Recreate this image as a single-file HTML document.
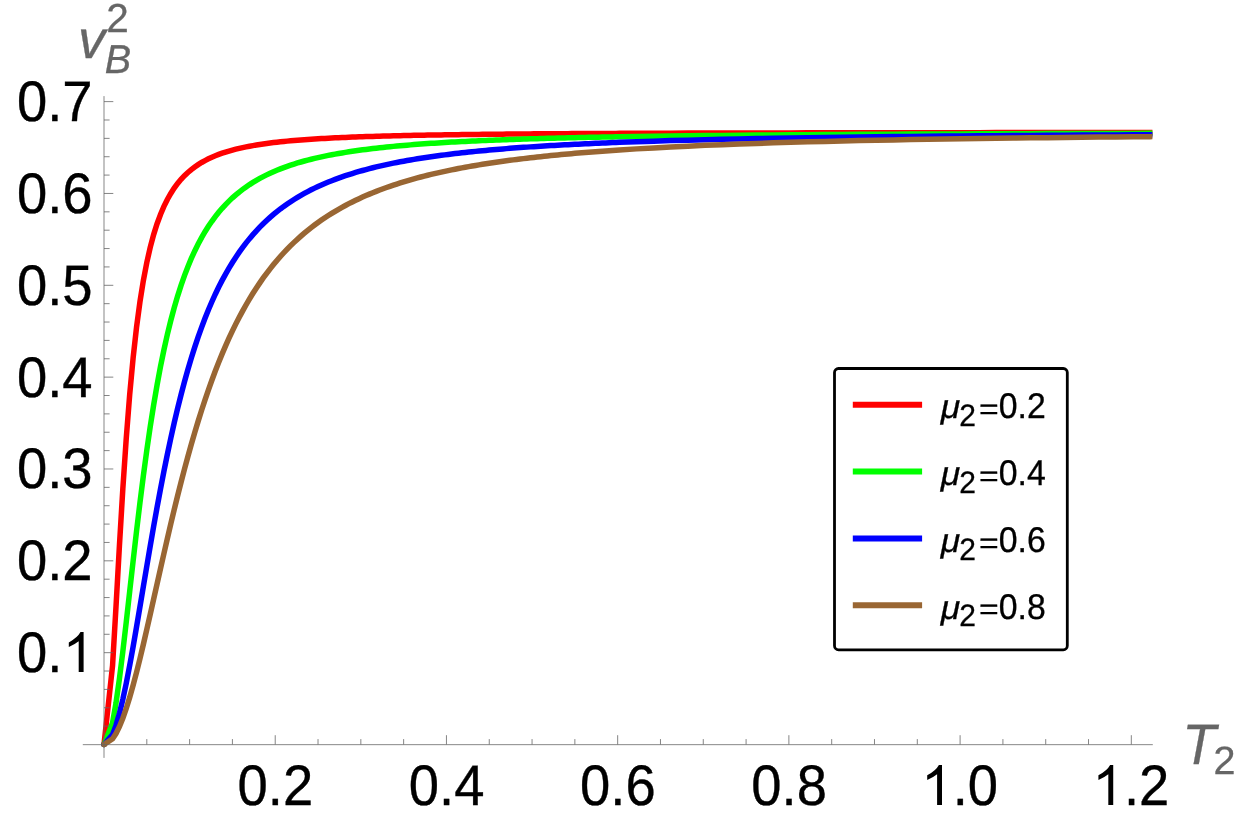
<!DOCTYPE html>
<html><head><meta charset="utf-8"><title>plot</title>
<style>
html,body{margin:0;padding:0;background:#fff;}
body{width:1241px;height:835px;overflow:hidden;}
svg{display:block;will-change:transform;}
text{font-family:"Liberation Sans",sans-serif;text-rendering:geometricPrecision;}
</style></head><body>
<svg width="1241" height="835" viewBox="0 0 1241 835">
<rect width="1241" height="835" fill="#fff"/>

<g fill="none" stroke-width="5.5" stroke-linejoin="miter" stroke-linecap="butt">
<path d="M104.00 744.50 L112.56 665.55 L115.99 606.80 L119.41 546.02 L122.83 488.92 L126.26 438.25 L129.68 394.74 L133.11 358.05 L136.53 327.36 L139.96 301.77 L143.38 280.39 L146.81 262.47 L150.23 247.39 L153.65 234.62 L157.08 223.74 L160.50 214.43 L163.93 206.41 L167.35 199.46 L170.78 193.42 L174.20 188.13 L177.62 183.47 L181.05 179.36 L184.47 175.71 L187.90 172.47 L191.32 169.56 L194.75 166.95 L198.17 164.61 L201.60 162.48 L205.02 160.56 L208.44 158.81 L211.87 157.22 L215.29 155.76 L218.72 154.43 L222.14 153.21 L225.57 152.08 L228.99 151.04 L232.42 150.08 L235.84 149.19 L239.26 148.36 L242.69 147.60 L246.11 146.88 L249.54 146.22 L252.96 145.60 L256.39 145.01 L259.81 144.47 L263.23 143.96 L266.66 143.48 L270.08 143.03 L273.51 142.60 L276.93 142.20 L280.36 141.83 L283.78 141.47 L287.21 141.13 L290.63 140.81 L294.05 140.51 L297.48 140.22 L300.90 139.95 L304.33 139.69 L307.75 139.45 L311.18 139.21 L314.60 138.99 L318.03 138.78 L321.45 138.58 L324.87 138.38 L328.30 138.20 L331.72 138.02 L335.15 137.85 L338.57 137.69 L342.00 137.54 L345.42 137.39 L348.84 137.25 L352.27 137.11 L355.69 136.98 L359.12 136.86 L362.54 136.73 L365.97 136.62 L369.39 136.51 L372.82 136.40 L376.24 136.30 L379.66 136.20 L383.09 136.10 L386.51 136.01 L389.94 135.92 L393.36 135.83 L396.79 135.75 L400.21 135.67 L403.64 135.59 L407.06 135.52 L410.48 135.44 L413.91 135.37 L417.33 135.31 L420.76 135.24 L424.18 135.18 L427.61 135.11 L431.03 135.05 L434.45 135.00 L437.88 134.94 L441.30 134.89 L444.73 134.83 L448.15 134.78 L451.58 134.73 L455.00 134.68 L458.43 134.64 L461.85 134.59 L465.27 134.55 L468.70 134.50 L472.12 134.46 L475.55 134.42 L478.97 134.38 L482.40 134.34 L485.82 134.31 L489.25 134.27 L492.67 134.23 L496.09 134.20 L499.52 134.16 L502.94 134.13 L506.37 134.10 L509.79 134.07 L513.22 134.04 L516.64 134.01 L520.06 133.98 L523.49 133.95 L526.91 133.92 L530.34 133.90 L533.76 133.87 L537.19 133.84 L540.61 133.82 L544.04 133.79 L547.46 133.77 L550.88 133.75 L554.31 133.72 L557.73 133.70 L561.16 133.68 L564.58 133.66 L568.01 133.64 L571.43 133.62 L574.86 133.60 L578.28 133.58 L581.70 133.56 L585.13 133.54 L588.55 133.52 L591.98 133.50 L595.40 133.49 L598.83 133.47 L602.25 133.45 L605.67 133.44 L609.10 133.42 L612.52 133.40 L615.95 133.39 L619.37 133.37 L636.49 133.30 L653.62 133.24 L670.74 133.18 L687.86 133.12 L704.98 133.07 L722.10 133.03 L739.23 132.98 L756.35 132.94 L773.47 132.91 L790.59 132.88 L807.71 132.84 L824.84 132.82 L841.96 132.79 L859.08 132.76 L876.20 132.74 L893.32 132.72 L910.45 132.70 L927.57 132.68 L944.69 132.66 L961.81 132.64 L978.93 132.63 L996.06 132.61 L1013.18 132.60 L1030.30 132.59 L1047.42 132.57 L1064.54 132.56 L1081.67 132.55 L1098.79 132.54 L1115.91 132.53 L1133.03 132.52 L1150.15 132.51 L1152.40 132.51" stroke="#ff0000"/>
<circle cx="104.00" cy="744.50" r="2.75" fill="#ff0000" stroke="none"/>
<path d="M104.00 744.50 L112.56 722.65 L115.99 703.09 L119.41 678.94 L122.83 651.48 L126.26 621.97 L129.68 591.51 L133.11 561.04 L136.53 531.25 L139.96 502.66 L143.38 475.60 L146.81 450.25 L150.23 426.70 L153.65 404.95 L157.08 384.95 L160.50 366.62 L163.93 349.85 L167.35 334.52 L170.78 320.52 L174.20 307.74 L177.62 296.06 L181.05 285.38 L184.47 275.61 L187.90 266.66 L191.32 258.46 L194.75 250.92 L198.17 243.99 L201.60 237.62 L205.02 231.73 L208.44 226.30 L211.87 221.28 L215.29 216.63 L218.72 212.31 L222.14 208.31 L225.57 204.58 L228.99 201.11 L232.42 197.87 L235.84 194.85 L239.26 192.03 L242.69 189.38 L246.11 186.91 L249.54 184.58 L252.96 182.40 L256.39 180.34 L259.81 178.41 L263.23 176.59 L266.66 174.87 L270.08 173.24 L273.51 171.71 L276.93 170.26 L280.36 168.88 L283.78 167.58 L287.21 166.34 L290.63 165.17 L294.05 164.06 L297.48 162.99 L300.90 161.99 L304.33 161.02 L307.75 160.11 L311.18 159.24 L314.60 158.40 L318.03 157.61 L321.45 156.84 L324.87 156.12 L328.30 155.42 L331.72 154.75 L335.15 154.11 L338.57 153.50 L342.00 152.92 L345.42 152.35 L348.84 151.81 L352.27 151.29 L355.69 150.79 L359.12 150.31 L362.54 149.85 L365.97 149.40 L369.39 148.98 L372.82 148.56 L376.24 148.17 L379.66 147.78 L383.09 147.41 L386.51 147.06 L389.94 146.71 L393.36 146.38 L396.79 146.06 L400.21 145.75 L403.64 145.45 L407.06 145.16 L410.48 144.87 L413.91 144.60 L417.33 144.34 L420.76 144.08 L424.18 143.84 L427.61 143.60 L431.03 143.36 L434.45 143.14 L437.88 142.92 L441.30 142.71 L444.73 142.50 L448.15 142.30 L451.58 142.11 L455.00 141.92 L458.43 141.74 L461.85 141.56 L465.27 141.38 L468.70 141.22 L472.12 141.05 L475.55 140.89 L478.97 140.74 L482.40 140.59 L485.82 140.44 L489.25 140.30 L492.67 140.16 L496.09 140.02 L499.52 139.89 L502.94 139.76 L506.37 139.63 L509.79 139.51 L513.22 139.39 L516.64 139.27 L520.06 139.16 L523.49 139.05 L526.91 138.94 L530.34 138.83 L533.76 138.73 L537.19 138.63 L540.61 138.53 L544.04 138.43 L547.46 138.34 L550.88 138.24 L554.31 138.15 L557.73 138.07 L561.16 137.98 L564.58 137.90 L568.01 137.81 L571.43 137.73 L574.86 137.65 L578.28 137.58 L581.70 137.50 L585.13 137.43 L588.55 137.35 L591.98 137.28 L595.40 137.21 L598.83 137.15 L602.25 137.08 L605.67 137.01 L609.10 136.95 L612.52 136.89 L615.95 136.82 L619.37 136.76 L636.49 136.48 L653.62 136.22 L670.74 135.99 L687.86 135.77 L704.98 135.57 L722.10 135.39 L739.23 135.22 L756.35 135.07 L773.47 134.93 L790.59 134.79 L807.71 134.67 L824.84 134.56 L841.96 134.45 L859.08 134.35 L876.20 134.26 L893.32 134.17 L910.45 134.09 L927.57 134.02 L944.69 133.94 L961.81 133.88 L978.93 133.81 L996.06 133.75 L1013.18 133.70 L1030.30 133.64 L1047.42 133.59 L1064.54 133.54 L1081.67 133.50 L1098.79 133.46 L1115.91 133.42 L1133.03 133.38 L1150.15 133.34 L1152.40 133.33" stroke="#00ff00"/>
<circle cx="104.00" cy="744.50" r="2.75" fill="#00ff00" stroke="none"/>
<path d="M104.00 744.50 L112.56 734.59 L115.99 725.38 L119.41 713.52 L122.83 699.35 L126.26 683.23 L129.68 665.55 L133.11 646.68 L136.53 626.98 L139.96 606.80 L143.38 586.41 L146.81 566.09 L150.23 546.02 L153.65 526.39 L157.08 507.32 L160.50 488.92 L163.93 471.25 L167.35 454.35 L170.78 438.25 L174.20 422.95 L177.62 408.45 L181.05 394.74 L184.47 381.79 L187.90 369.56 L191.32 358.05 L194.75 347.20 L198.17 336.98 L201.60 327.36 L205.02 318.31 L208.44 309.79 L211.87 301.77 L215.29 294.21 L218.72 287.09 L222.14 280.39 L225.57 274.07 L228.99 268.10 L232.42 262.47 L235.84 257.16 L239.26 252.13 L242.69 247.39 L246.11 242.89 L249.54 238.64 L252.96 234.62 L256.39 230.80 L259.81 227.18 L263.23 223.74 L266.66 220.48 L270.08 217.38 L273.51 214.43 L276.93 211.62 L280.36 208.95 L283.78 206.41 L287.21 203.98 L290.63 201.67 L294.05 199.46 L297.48 197.36 L300.90 195.34 L304.33 193.42 L307.75 191.58 L311.18 189.81 L314.60 188.13 L318.03 186.51 L321.45 184.96 L324.87 183.47 L328.30 182.05 L331.72 180.68 L335.15 179.36 L338.57 178.10 L342.00 176.88 L345.42 175.71 L348.84 174.59 L352.27 173.51 L355.69 172.47 L359.12 171.46 L362.54 170.49 L365.97 169.56 L369.39 168.66 L372.82 167.79 L376.24 166.95 L379.66 166.14 L383.09 165.36 L386.51 164.61 L389.94 163.87 L393.36 163.17 L396.79 162.48 L400.21 161.82 L403.64 161.18 L407.06 160.56 L410.48 159.96 L413.91 159.38 L417.33 158.81 L420.76 158.27 L424.18 157.74 L427.61 157.22 L431.03 156.72 L434.45 156.24 L437.88 155.76 L441.30 155.31 L444.73 154.86 L448.15 154.43 L451.58 154.01 L455.00 153.60 L458.43 153.21 L461.85 152.82 L465.27 152.44 L468.70 152.08 L472.12 151.72 L475.55 151.38 L478.97 151.04 L482.40 150.71 L485.82 150.39 L489.25 150.08 L492.67 149.77 L496.09 149.48 L499.52 149.19 L502.94 148.91 L506.37 148.63 L509.79 148.36 L513.22 148.10 L516.64 147.85 L520.06 147.60 L523.49 147.35 L526.91 147.12 L530.34 146.88 L533.76 146.66 L537.19 146.43 L540.61 146.22 L544.04 146.00 L547.46 145.80 L550.88 145.60 L554.31 145.40 L557.73 145.20 L561.16 145.01 L564.58 144.83 L568.01 144.65 L571.43 144.47 L574.86 144.30 L578.28 144.13 L581.70 143.96 L585.13 143.80 L588.55 143.64 L591.98 143.48 L595.40 143.33 L598.83 143.18 L602.25 143.03 L605.67 142.88 L609.10 142.74 L612.52 142.60 L615.95 142.47 L619.37 142.33 L636.49 141.71 L653.62 141.13 L670.74 140.61 L687.86 140.13 L704.98 139.69 L722.10 139.29 L739.23 138.92 L756.35 138.58 L773.47 138.26 L790.59 137.97 L807.71 137.69 L824.84 137.44 L841.96 137.20 L859.08 136.98 L876.20 136.77 L893.32 136.58 L910.45 136.40 L927.57 136.23 L944.69 136.07 L961.81 135.92 L978.93 135.78 L996.06 135.64 L1013.18 135.52 L1030.30 135.40 L1047.42 135.28 L1064.54 135.18 L1081.67 135.07 L1098.79 134.98 L1115.91 134.89 L1133.03 134.80 L1150.15 134.72 L1152.40 134.71" stroke="#0000ff"/>
<circle cx="104.00" cy="744.50" r="2.75" fill="#0000ff" stroke="none"/>
<path d="M104.00 744.50 L112.56 738.89 L115.99 733.59 L119.41 726.68 L122.83 718.26 L126.26 708.46 L129.68 697.43 L133.11 685.34 L136.53 672.34 L139.96 658.59 L143.38 644.25 L146.81 629.48 L150.23 614.41 L153.65 599.16 L157.08 583.87 L160.50 568.62 L163.93 553.50 L167.35 538.60 L170.78 523.97 L174.20 509.67 L177.62 495.74 L181.05 482.21 L184.47 469.09 L187.90 456.42 L191.32 444.19 L194.75 432.42 L198.17 421.10 L201.60 410.22 L205.02 399.79 L208.44 389.79 L211.87 380.22 L215.29 371.05 L218.72 362.29 L222.14 353.90 L225.57 345.88 L228.99 338.22 L232.42 330.90 L235.84 323.90 L239.26 317.22 L242.69 310.83 L246.11 304.72 L249.54 298.88 L252.96 293.30 L256.39 287.96 L259.81 282.86 L263.23 277.97 L266.66 273.30 L270.08 268.83 L273.51 264.55 L276.93 260.44 L280.36 256.51 L283.78 252.75 L287.21 249.14 L290.63 245.67 L294.05 242.35 L297.48 239.16 L300.90 236.10 L304.33 233.16 L307.75 230.34 L311.18 227.62 L314.60 225.01 L318.03 222.50 L321.45 220.08 L324.87 217.76 L328.30 215.52 L331.72 213.36 L335.15 211.28 L338.57 209.28 L342.00 207.35 L345.42 205.49 L348.84 203.69 L352.27 201.96 L355.69 200.28 L359.12 198.66 L362.54 197.10 L365.97 195.59 L369.39 194.13 L372.82 192.72 L376.24 191.35 L379.66 190.03 L383.09 188.75 L386.51 187.51 L389.94 186.31 L393.36 185.15 L396.79 184.02 L400.21 182.93 L403.64 181.87 L407.06 180.84 L410.48 179.85 L413.91 178.88 L417.33 177.94 L420.76 177.03 L424.18 176.15 L427.61 175.29 L431.03 174.45 L434.45 173.64 L437.88 172.85 L441.30 172.09 L444.73 171.34 L448.15 170.61 L451.58 169.91 L455.00 169.22 L458.43 168.55 L461.85 167.90 L465.27 167.26 L468.70 166.65 L472.12 166.04 L475.55 165.46 L478.97 164.89 L482.40 164.33 L485.82 163.78 L489.25 163.25 L492.67 162.74 L496.09 162.23 L499.52 161.74 L502.94 161.26 L506.37 160.79 L509.79 160.33 L513.22 159.89 L516.64 159.45 L520.06 159.02 L523.49 158.61 L526.91 158.20 L530.34 157.80 L533.76 157.41 L537.19 157.03 L540.61 156.66 L544.04 156.30 L547.46 155.94 L550.88 155.59 L554.31 155.25 L557.73 154.92 L561.16 154.59 L564.58 154.27 L568.01 153.96 L571.43 153.65 L574.86 153.35 L578.28 153.06 L581.70 152.77 L585.13 152.49 L588.55 152.21 L591.98 151.94 L595.40 151.68 L598.83 151.42 L602.25 151.16 L605.67 150.92 L609.10 150.67 L612.52 150.43 L615.95 150.19 L619.37 149.96 L636.49 148.87 L653.62 147.88 L670.74 146.97 L687.86 146.14 L704.98 145.37 L722.10 144.67 L739.23 144.02 L756.35 143.42 L773.47 142.87 L790.59 142.35 L807.71 141.87 L824.84 141.43 L841.96 141.01 L859.08 140.62 L876.20 140.26 L893.32 139.92 L910.45 139.60 L927.57 139.30 L944.69 139.02 L961.81 138.75 L978.93 138.50 L996.06 138.27 L1013.18 138.04 L1030.30 137.83 L1047.42 137.63 L1064.54 137.44 L1081.67 137.27 L1098.79 137.10 L1115.91 136.93 L1133.03 136.78 L1150.15 136.63 L1152.40 136.61" stroke="#996633"/>
<circle cx="104.00" cy="744.50" r="2.75" fill="#996633" stroke="none"/>
</g>
<g stroke="#666" stroke-width="0.78" fill="none">
<line x1="82.8" y1="744.66" x2="1152.8" y2="744.66"/>
<line x1="104" y1="96.1" x2="104" y2="757.9"/>
</g>
<g stroke="#666" stroke-width="0.8" fill="none">
<line x1="146.81" y1="744.5" x2="146.81" y2="739.10"/>
<line x1="189.61" y1="744.5" x2="189.61" y2="739.10"/>
<line x1="232.42" y1="744.5" x2="232.42" y2="739.10"/>
<line x1="275.22" y1="744.5" x2="275.22" y2="735.20"/>
<line x1="318.02" y1="744.5" x2="318.02" y2="739.10"/>
<line x1="360.83" y1="744.5" x2="360.83" y2="739.10"/>
<line x1="403.64" y1="744.5" x2="403.64" y2="739.10"/>
<line x1="446.44" y1="744.5" x2="446.44" y2="735.20"/>
<line x1="489.25" y1="744.5" x2="489.25" y2="739.10"/>
<line x1="532.05" y1="744.5" x2="532.05" y2="739.10"/>
<line x1="574.86" y1="744.5" x2="574.86" y2="739.10"/>
<line x1="617.66" y1="744.5" x2="617.66" y2="735.20"/>
<line x1="660.47" y1="744.5" x2="660.47" y2="739.10"/>
<line x1="703.27" y1="744.5" x2="703.27" y2="739.10"/>
<line x1="746.08" y1="744.5" x2="746.08" y2="739.10"/>
<line x1="788.88" y1="744.5" x2="788.88" y2="735.20"/>
<line x1="831.69" y1="744.5" x2="831.69" y2="739.10"/>
<line x1="874.49" y1="744.5" x2="874.49" y2="739.10"/>
<line x1="917.30" y1="744.5" x2="917.30" y2="739.10"/>
<line x1="960.10" y1="744.5" x2="960.10" y2="735.20"/>
<line x1="1002.91" y1="744.5" x2="1002.91" y2="739.10"/>
<line x1="1045.71" y1="744.5" x2="1045.71" y2="739.10"/>
<line x1="1088.52" y1="744.5" x2="1088.52" y2="739.10"/>
<line x1="1131.32" y1="744.5" x2="1131.32" y2="735.20"/>
<line x1="104" y1="726.13" x2="109.60" y2="726.13"/>
<line x1="104" y1="707.76" x2="109.60" y2="707.76"/>
<line x1="104" y1="689.40" x2="109.60" y2="689.40"/>
<line x1="104" y1="671.03" x2="109.60" y2="671.03"/>
<line x1="104" y1="652.66" x2="113.30" y2="652.66"/>
<line x1="104" y1="634.29" x2="109.60" y2="634.29"/>
<line x1="104" y1="615.92" x2="109.60" y2="615.92"/>
<line x1="104" y1="597.56" x2="109.60" y2="597.56"/>
<line x1="104" y1="579.19" x2="109.60" y2="579.19"/>
<line x1="104" y1="560.82" x2="113.30" y2="560.82"/>
<line x1="104" y1="542.45" x2="109.60" y2="542.45"/>
<line x1="104" y1="524.08" x2="109.60" y2="524.08"/>
<line x1="104" y1="505.72" x2="109.60" y2="505.72"/>
<line x1="104" y1="487.35" x2="109.60" y2="487.35"/>
<line x1="104" y1="468.98" x2="113.30" y2="468.98"/>
<line x1="104" y1="450.61" x2="109.60" y2="450.61"/>
<line x1="104" y1="432.24" x2="109.60" y2="432.24"/>
<line x1="104" y1="413.88" x2="109.60" y2="413.88"/>
<line x1="104" y1="395.51" x2="109.60" y2="395.51"/>
<line x1="104" y1="377.14" x2="113.30" y2="377.14"/>
<line x1="104" y1="358.77" x2="109.60" y2="358.77"/>
<line x1="104" y1="340.40" x2="109.60" y2="340.40"/>
<line x1="104" y1="322.04" x2="109.60" y2="322.04"/>
<line x1="104" y1="303.67" x2="109.60" y2="303.67"/>
<line x1="104" y1="285.30" x2="113.30" y2="285.30"/>
<line x1="104" y1="266.93" x2="109.60" y2="266.93"/>
<line x1="104" y1="248.56" x2="109.60" y2="248.56"/>
<line x1="104" y1="230.20" x2="109.60" y2="230.20"/>
<line x1="104" y1="211.83" x2="109.60" y2="211.83"/>
<line x1="104" y1="193.46" x2="113.30" y2="193.46"/>
<line x1="104" y1="175.09" x2="109.60" y2="175.09"/>
<line x1="104" y1="156.72" x2="109.60" y2="156.72"/>
<line x1="104" y1="138.36" x2="109.60" y2="138.36"/>
<line x1="104" y1="119.99" x2="109.60" y2="119.99"/>
<line x1="104" y1="101.62" x2="113.30" y2="101.62"/>
</g>
<g fill="#000">
<text transform="translate(16.98 672.06) scale(1.000 1.052)" font-size="54.4" letter-spacing="0" stroke="#000" stroke-width="0.35">0.</text>
<path d="M83.60 672.01 H78.70 V641.31 Q74.40 644.71 68.80 647.11 V642.41 Q77.60 637.71 80.50 632.11 H83.60 Z" fill="#000"/>
<text transform="translate(16.98 580.22) scale(1.000 1.052)" font-size="54.4" letter-spacing="0" stroke="#000" stroke-width="0.35">0.2</text>
<text transform="translate(16.98 488.38) scale(1.000 1.052)" font-size="54.4" letter-spacing="0" stroke="#000" stroke-width="0.35">0.3</text>
<text transform="translate(16.98 396.54) scale(1.000 1.052)" font-size="54.4" letter-spacing="0" stroke="#000" stroke-width="0.35">0.4</text>
<text transform="translate(16.98 304.70) scale(1.000 1.052)" font-size="54.4" letter-spacing="0" stroke="#000" stroke-width="0.35">0.5</text>
<text transform="translate(16.98 212.86) scale(1.000 1.052)" font-size="54.4" letter-spacing="0" stroke="#000" stroke-width="0.35">0.6</text>
<text transform="translate(16.98 121.02) scale(1.000 1.052)" font-size="54.4" letter-spacing="0" stroke="#000" stroke-width="0.35">0.7</text>
<text transform="translate(237.61 804.70) scale(1.000 1.052)" font-size="54.4" letter-spacing="0" stroke="#000" stroke-width="0.35">0.2</text>
<text transform="translate(408.83 804.70) scale(1.000 1.052)" font-size="54.4" letter-spacing="0" stroke="#000" stroke-width="0.35">0.4</text>
<text transform="translate(580.05 804.70) scale(1.000 1.052)" font-size="54.4" letter-spacing="0" stroke="#000" stroke-width="0.35">0.6</text>
<text transform="translate(751.27 804.70) scale(1.000 1.052)" font-size="54.4" letter-spacing="0" stroke="#000" stroke-width="0.35">0.8</text>
<path d="M942.00 804.90 H937.10 V774.20 Q932.80 777.60 927.20 780.00 V775.30 Q936.00 770.60 938.90 765.00 H942.00 Z" fill="#000"/>
<text transform="translate(952.74 804.70) scale(1.000 1.052)" font-size="54.4" letter-spacing="0" stroke="#000" stroke-width="0.35">.0</text>
<path d="M1113.22 804.90 H1108.32 V774.20 Q1104.02 777.60 1098.42 780.00 V775.30 Q1107.22 770.60 1110.12 765.00 H1113.22 Z" fill="#000"/>
<text transform="translate(1123.96 804.70) scale(1.000 1.052)" font-size="54.4" letter-spacing="0" stroke="#000" stroke-width="0.35">.2</text>
</g>
<g fill="#666">
<text transform="translate(78.00 58.00) scale(1.000 0.985)" font-size="54.6" font-style="italic" stroke="#666" stroke-width="0.3">v</text>
<text transform="translate(106.30 32.30) scale(1.000 1.000)" font-size="40.5" stroke="#666" stroke-width="0.3">2</text>
<text transform="translate(104.70 73.40) scale(1.000 1.020)" font-size="39.6" font-style="italic" stroke="#666" stroke-width="0.3">B</text>
<text transform="translate(1182.20 763.70) scale(1.000 1.040)" font-size="55" font-style="italic" stroke="#666" stroke-width="0.3">T</text>
<text transform="translate(1213.40 773.80) scale(1.000 1.000)" font-size="39.5" stroke="#666" stroke-width="0.3">2</text>
</g>
<rect x="834.5" y="368.5" width="232.8" height="281.3" rx="4" ry="4" fill="#fff" stroke="#000" stroke-width="2.8"/>
<g fill="#000">
<line x1="852.8" y1="404.70" x2="922.1" y2="404.70" stroke="#ff0000" stroke-width="6.0"/>
<text transform="translate(940.80 418.00) scale(1.050 1.000)" font-size="33.8" font-style="italic" stroke="#000" stroke-width="0.3">μ</text>
<text transform="translate(959.30 425.90) scale(1.000 1.040)" font-size="30" stroke="#000" stroke-width="0.3">2</text>
<text transform="translate(979.00 418.90) scale(1.000 0.860)" font-size="33.8" stroke="#000" stroke-width="0.3">=</text>
<text transform="translate(998.70 418.00) scale(1.000 1.055)" font-size="33.8" stroke="#000" stroke-width="0.3">0.2</text>
<line x1="852.8" y1="471.50" x2="922.1" y2="471.50" stroke="#00ff00" stroke-width="6.0"/>
<text transform="translate(940.80 484.80) scale(1.050 1.000)" font-size="33.8" font-style="italic" stroke="#000" stroke-width="0.3">μ</text>
<text transform="translate(959.30 492.70) scale(1.000 1.040)" font-size="30" stroke="#000" stroke-width="0.3">2</text>
<text transform="translate(979.00 485.70) scale(1.000 0.860)" font-size="33.8" stroke="#000" stroke-width="0.3">=</text>
<text transform="translate(998.70 484.80) scale(1.000 1.055)" font-size="33.8" stroke="#000" stroke-width="0.3">0.4</text>
<line x1="852.8" y1="538.40" x2="922.1" y2="538.40" stroke="#0000ff" stroke-width="6.0"/>
<text transform="translate(940.80 551.70) scale(1.050 1.000)" font-size="33.8" font-style="italic" stroke="#000" stroke-width="0.3">μ</text>
<text transform="translate(959.30 559.60) scale(1.000 1.040)" font-size="30" stroke="#000" stroke-width="0.3">2</text>
<text transform="translate(979.00 552.60) scale(1.000 0.860)" font-size="33.8" stroke="#000" stroke-width="0.3">=</text>
<text transform="translate(998.70 551.70) scale(1.000 1.055)" font-size="33.8" stroke="#000" stroke-width="0.3">0.6</text>
<line x1="852.8" y1="605.20" x2="922.1" y2="605.20" stroke="#996633" stroke-width="6.0"/>
<text transform="translate(940.80 618.50) scale(1.050 1.000)" font-size="33.8" font-style="italic" stroke="#000" stroke-width="0.3">μ</text>
<text transform="translate(959.30 626.40) scale(1.000 1.040)" font-size="30" stroke="#000" stroke-width="0.3">2</text>
<text transform="translate(979.00 619.40) scale(1.000 0.860)" font-size="33.8" stroke="#000" stroke-width="0.3">=</text>
<text transform="translate(998.70 618.50) scale(1.000 1.055)" font-size="33.8" stroke="#000" stroke-width="0.3">0.8</text>
</g>
</svg></body></html>
